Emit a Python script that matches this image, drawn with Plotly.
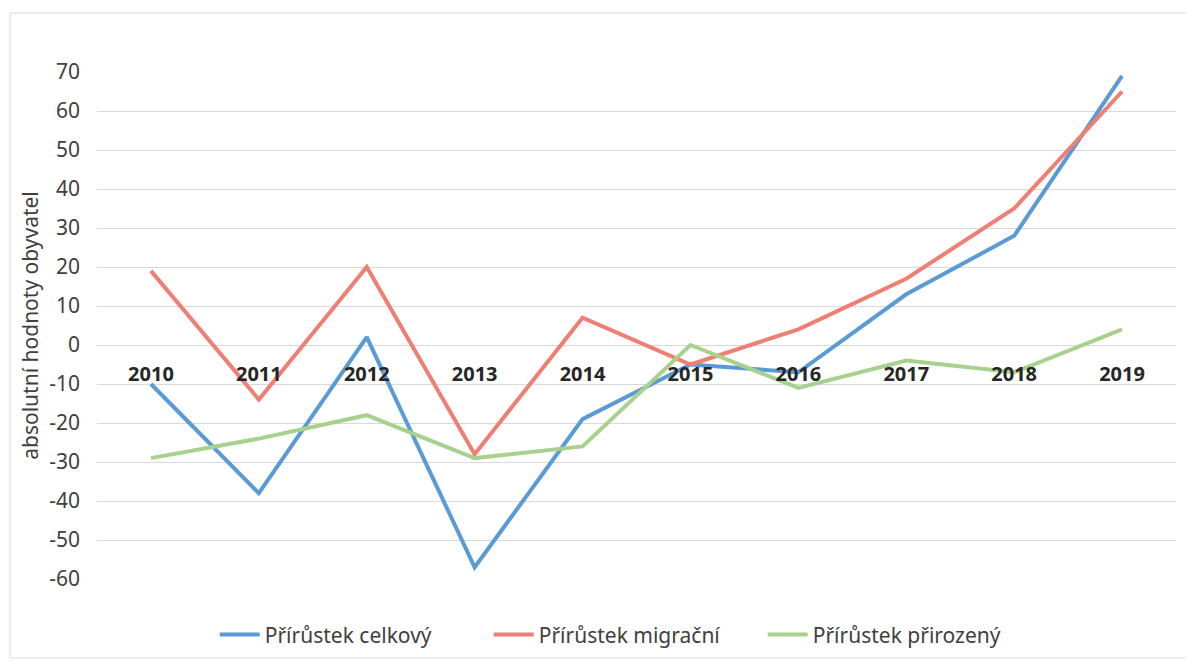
import plotly.graph_objects as go

# data
roky = ['2010', '2011', '2012', '2013', '2014', '2015', '2016', '2017', '2018', '2019']
celkovy = [-10, -38, 2, -57, -19, -5, -7, 13, 28, 69]
migracni = [19, -14, 20, -28, 7, -5, 4, 17, 35, 65]
prirozeny = [-29, -24, -18, -29, -26, 0, -11, -4, -7, 4]

y_ticks = list(range(-60, 71, 10))
y_labels = [str(v) for v in y_ticks]

FONT = 'Noto Sans, sans-serif'

# page body has an 8px margin, so the figure is sized/positioned for that
W, H = 1186, 651
ML, MR, MT, MB = 89, 18, 64, 80
PW, PH = W - ML - MR, H - MT - MB

fig = go.Figure()
serie = [
    ('Přírůstek celkový', celkovy, '#5B9BD5'),
    ('Přírůstek migrační', migracni, '#F07F73'),
    ('Přírůstek přirozený', prirozeny, '#A9D18E'),
]
for nazev, hodnoty, barva in serie:
    fig.add_trace(go.Scatter(
        x=roky, y=hodnoty, mode='lines', name=nazev,
        line=dict(color=barva, width=4),
    ))

# light border round the whole chart area
fig.add_shape(type='rect', xref='paper', yref='paper',
              x0=(2 - ML) / PW, x1=(1182 - ML) / PW,
              y0=(MT + PH - 650) / PH, y1=(MT + PH - 5) / PH,
              line=dict(color='#D9D9D9', width=1), layer='below')

fig.update_layout(
    width=W, height=H,
    margin=dict(l=ML, r=MR, t=MT, b=MB, autoexpand=False),
    paper_bgcolor='white', plot_bgcolor='white',
    font=dict(family=FONT, size=20, color='#404040'),
    showlegend=True,
    legend=dict(orientation='h', x=0.49, xanchor='center', y=-0.11, yanchor='middle',
                font=dict(size=21, color='#404040'), itemwidth=40,
                entrywidth=219),
    xaxis=dict(
        type='category', range=[-0.5, 9.5],
        anchor='free', position=60 / 130,
        showgrid=False, showline=False, ticks='', zeroline=False,
        tickfont=dict(size=20, color='#262626', weight='bold'),
        ticklabelstandoff=15,
    ),
    yaxis=dict(
        range=[-60, 70], tickvals=y_ticks, ticktext=y_labels,
        showgrid=True, gridcolor='#D9D9D9', gridwidth=1,
        zeroline=False, showline=False, ticks='',
        tickfont=dict(size=21, color='#404040'),
        ticklabelstandoff=16,
        title=dict(text='absolutní hodnoty obyvatel', standoff=4,
                   font=dict(size=21, color='#404040')),
    ),
)

fig.write_html("out.html")
